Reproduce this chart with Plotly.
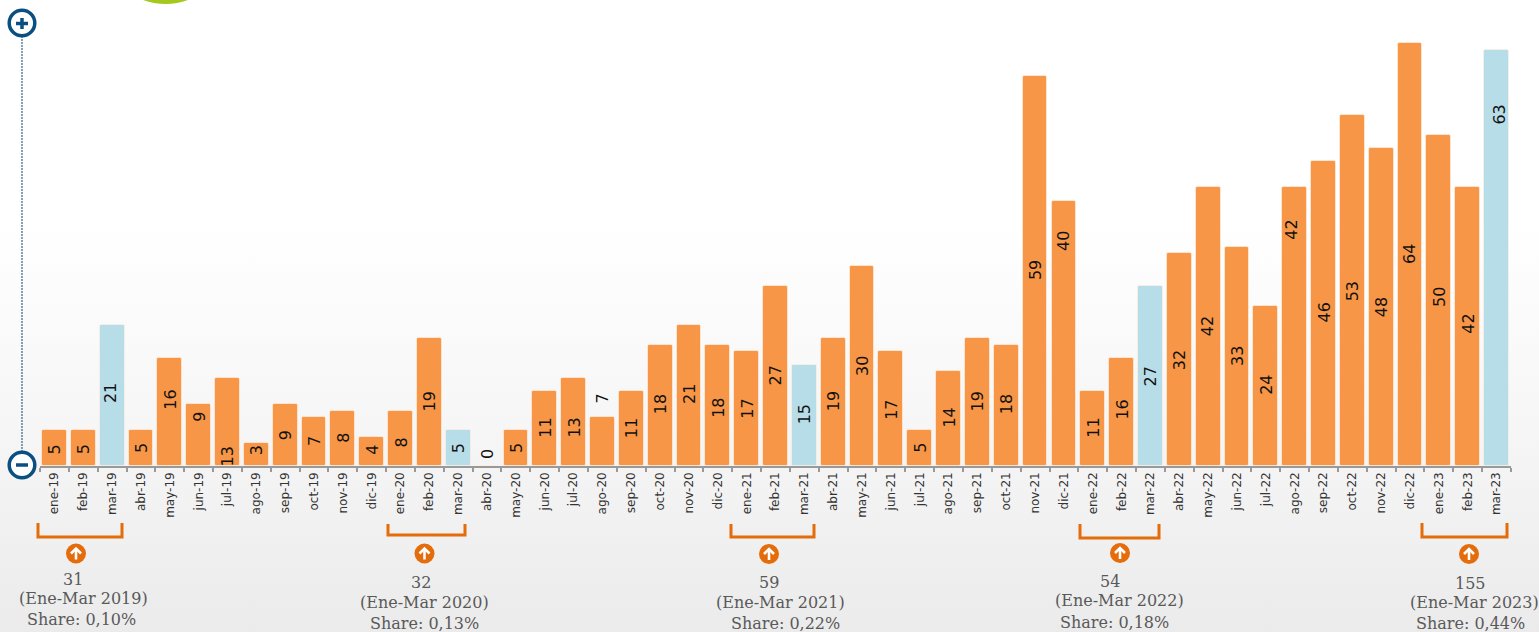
import base64
import plotly.graph_objects as go

W, H = 1539, 632
AXIS_PY = 465.5
ZERO_PY = 463.0
PX_PER_UNIT = 6.56
FOOT = (AXIS_PY - ZERO_PY) / PX_PER_UNIT

months = ["ene-19","feb-19","mar-19","abr-19","may-19","jun-19","jul-19","ago-19","sep-19","oct-19","nov-19","dic-19",
          "ene-20","feb-20","mar-20","abr-20","may-20","jun-20","jul-20","ago-20","sep-20","oct-20","nov-20","dic-20",
          "ene-21","feb-21","mar-21","abr-21","may-21","jun-21","jul-21","ago-21","sep-21","oct-21","nov-21","dic-21",
          "ene-22","feb-22","mar-22","abr-22","may-22","jun-22","jul-22","ago-22","sep-22","oct-22","nov-22","dic-22",
          "ene-23","feb-23","mar-23"]
values = [5,5,21,5,16,9,13,3,9,7,8,4,
          8,19,5,0,5,11,13,7,11,18,21,18,
          17,27,15,19,30,17,5,14,19,18,59,40,
          11,16,27,32,42,33,24,42,46,53,48,64,
          50,42,63]
highlight = ["mar-19","mar-20","mar-21","mar-22","mar-23"]

# pixel row at which each value label is centred
label_rows = [449,449,393,448,400,417,456,450,435,441,438,450,
              443,401,448,454,448,428,428,398,428,404,394,408,
              409,376,414,401,366,410,448,418,401,404,270,241,
              428,410,376,360,326,356,385,230,313,291,307,254,
              297,324,115]
# labels that sit off-centre in their column, in pixels
label_nudges = {"mar-19": -2, "ago-22": -4, "mar-23": 2, "dic-21": -1, "dic-22": -1, "may-22": -1, "feb-21": -1}

summary_values = ["31","32","59","54","155"]
summary_periods = ["(Ene-Mar 2019)","(Ene-Mar 2020)","(Ene-Mar 2021)","(Ene-Mar 2022)","(Ene-Mar 2023)"]
summary_shares = ["Share: 0,10%","Share: 0,13%","Share: 0,22%","Share: 0,18%","Share: 0,44%"]

# layout of the summary blocks: (value x,y), (period x,y), (share x,y)
summary_pos = [((73,579),(83.5,598),(81,619)),
               ((421,582),(424,602),(424,623)),
               ((769,582),(780,602),(785,623)),
               ((1110,581),(1119,600),(1114,622)),
               ((1470,583),(1474,602),(1470,623))]
brackets = [(38,122,523,537),(388,465,524,535),(731,814,524,537),(1080,1159,524,538),(1422,1507,523,537)]
arrows = [(76,553.5),(424.5,553.5),(769,554),(1120,553),(1469,554)]

ORANGE, BLUE, DARK = "#f79646", "#b7dde8", "#0b4f82"
ACCENT = "#e46c0a"
px = lambda v: v / W
py = lambda v: 1 - v / H

fig = go.Figure(go.Bar(
    x=months, y=[v + FOOT if v else 0 for v in values], base=-FOOT, width=0.86,
    marker=dict(color=[BLUE if m in highlight else ORANGE for m in months],
                cornerradius=2, line=dict(width=1, color="rgba(255,240,225,0.7)")),
    customdata=values, hovertemplate="%{x}: %{customdata}<extra></extra>", cliponaxis=False,
))

ann = []
for m, v, r in zip(months, values, label_rows):
    ann.append(dict(x=m, xref="x", xshift=label_nudges.get(m, 0), y=(ZERO_PY - r) / PX_PER_UNIT, yref="y",
                    text=str(v), textangle=-90, xanchor="center", yanchor="middle", showarrow=False,
                    font=dict(family="DejaVu Sans", size=16, color="#111111")))
for val, per, sh, pos in zip(summary_values, summary_periods, summary_shares, summary_pos):
    for t, (x, y) in zip((val, per, sh), pos):
        ann.append(dict(x=px(x), xref="paper", y=py(y), yref="paper", text=t, showarrow=False,
                        xanchor="center", yanchor="middle",
                        font=dict(family="DejaVu Serif", size=16, color="#595959")))

def circle(cx, cy, r, **kw):
    return dict(type="circle", xref="paper", yref="paper", x0=px(cx-r), x1=px(cx+r), y0=py(cy+r), y1=py(cy-r), **kw)

def seg(points, color, width, dash="solid"):
    d = "M " + " L ".join(f"{px(a):.5f},{py(b):.5f}" for a, b in points)
    return dict(type="path", xref="paper", yref="paper", path=d, line=dict(color=color, width=width, dash=dash))

shapes = [circle(165.5, -61, 65, fillcolor="#a4c91c", line=dict(width=0))]
shapes.append(seg([(22, 36), (22, 455)], "#0a3f6b", 1, "2px,1px"))
shapes.append(circle(22, 23, 12.8, fillcolor="white", line=dict(color=DARK, width=3.5)))
shapes.append(seg([(16, 23.5), (28, 23.5)], DARK, 3.5))
shapes.append(seg([(22, 18), (22, 29)], DARK, 3.5))
shapes.append(circle(22, 465, 12.8, fillcolor="white", line=dict(color=DARK, width=3.5)))
shapes.append(seg([(16, 465), (28, 465)], DARK, 3.5))
for x0, x1, y0, y1 in brackets:
    shapes.append(seg([(x0, y0), (x0, y1), (x1, y1), (x1, y0)], ACCENT, 3))
for cx, cy in arrows:
    shapes.append(circle(cx, cy, 10, fillcolor=ACCENT, line=dict(width=0)))
    shapes.append(seg([(cx, cy+6), (cx, cy-5)], "white", 2.6))
    shapes.append(seg([(cx-5, cy), (cx, cy-5), (cx+5, cy)], "white", 2.6))

svg = (f'<svg xmlns="http://www.w3.org/2000/svg" width="{W}" height="{H}">'
       '<defs><linearGradient id="g" x1="0" y1="0" x2="0" y2="1">'
       '<stop offset="0" stop-color="#ffffff"/><stop offset="0.35" stop-color="#ffffff"/>'
       '<stop offset="0.68" stop-color="#f6f6f6"/><stop offset="1" stop-color="#ebebeb"/>'
       f'</linearGradient></defs><rect width="{W}" height="{H}" fill="url(#g)"/></svg>')
bg = "data:image/svg+xml;base64," + base64.b64encode(svg.encode()).decode()

fig.update_layout(
    width=W, height=H, autosize=False, showlegend=False, bargap=0,
    margin=dict(l=0, r=0, t=0, b=0),
    paper_bgcolor="white", plot_bgcolor="rgba(0,0,0,0)",
    xaxis=dict(type="category", categoryorder="array", categoryarray=months,
               domain=[40/W, 1511/W], range=[-0.5, 50.5], tickson="boundaries",
               ticks="outside", ticklen=4, tickwidth=1.5, tickcolor="#999999",
               showline=True, linecolor="#999999", linewidth=2, showgrid=False, zeroline=False,
               tickangle=-90, tickfont=dict(family="DejaVu Sans", size=12, color="#333333")),
    yaxis=dict(domain=[(H-AXIS_PY)/H, 1], range=[-FOOT, ZERO_PY/PX_PER_UNIT], visible=False),
    annotations=ann, shapes=shapes,
    images=[dict(source=bg, xref="paper", yref="paper", x=0, y=1, sizex=1, sizey=1,
                 sizing="stretch", layer="below", xanchor="left", yanchor="top")],
)
fig.write_html("out.html", config=dict(displayModeBar=False),
               post_script="document.body.style.margin='0';document.documentElement.style.overflow='hidden';")
